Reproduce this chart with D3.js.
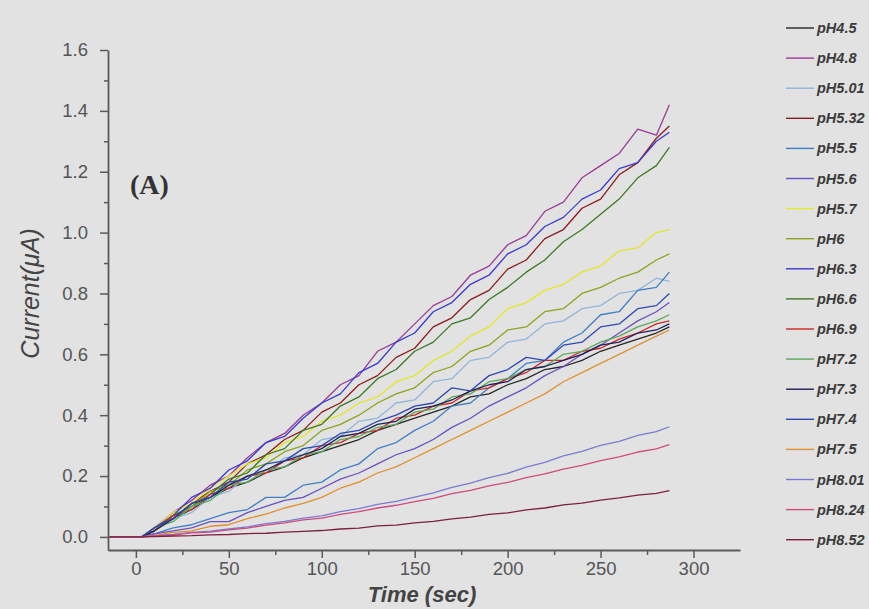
<!DOCTYPE html>
<html>
<head>
<meta charset="utf-8">
<script src="https://cdn.jsdelivr.net/npm/d3@7/dist/d3.min.js"></script>
<style>
  body { margin: 0; background: #e2e2e2; }
  svg { display: block; }
</style>
</head>
<body>
<div class="chart-container"></div>
<script>
const WIDTH = 869;
const HEIGHT = 609;

// time axis (sec) shared by all the runs
const time = [-15, 0, 3, 10, 20, 30, 40, 50, 60, 70, 80, 90, 100, 110, 120, 130, 140, 150,
  160, 170, 180, 190, 200, 210, 220, 230, 240, 250, 260, 270, 280, 287];

// current (uA), one array per pH
const ph4_5 = [0, 0, 0, .02, .06, .09, .13, .16, .18, .21, .23, .26, .28, .30, .32, .35, .37, .39, .41, .43, .46, .47, .50, .52, .55, .56, .58, .61, .63, .65, .67, .69];
const ph4_8 = [0, 0, 0, .03, .08, .12, .17, .20, .26, .31, .34, .40, .44, .50, .53, .61, .64, .70, .76, .79, .86, .89, .96, .99, 1.07, 1.10, 1.18, 1.22, 1.26, 1.34, 1.32, 1.42];
const ph5_01 = [0, 0, 0, .02, .06, .08, .13, .15, .20, .21, .26, .27, .32, .33, .38, .39, .44, .45, .51, .52, .58, .59, .64, .65, .70, .71, .75, .76, .80, .81, .85, .84];
const ph5_32 = [0, 0, 0, .03, .06, .11, .15, .18, .24, .27, .32, .35, .41, .44, .50, .53, .59, .62, .69, .72, .78, .81, .88, .91, .98, 1.01, 1.08, 1.11, 1.19, 1.23, 1.31, 1.35];
const ph5_5 = [0, 0, 0, .01, .03, .04, .06, .08, .09, .13, .13, .17, .18, .22, .24, .29, .31, .35, .38, .43, .44, .49, .52, .57, .58, .64, .67, .73, .74, .81, .82, .87];
const ph5_6 = [0, 0, 0, .01, .02, .03, .05, .05, .08, .10, .12, .13, .16, .19, .21, .24, .27, .29, .32, .36, .39, .43, .46, .49, .53, .56, .60, .63, .67, .71, .74, .77];
const ph5_7 = [0, 0, 0, .03, .08, .11, .16, .20, .24, .26, .31, .33, .38, .40, .44, .46, .51, .53, .58, .61, .66, .69, .75, .77, .81, .83, .87, .89, .94, .95, 1.00, 1.01];
const ph6 = [0, 0, 0, .02, .07, .10, .15, .17, .22, .24, .28, .30, .35, .37, .40, .44, .47, .49, .54, .56, .61, .63, .68, .69, .74, .75, .80, .82, .85, .87, .91, .93];
const ph6_3 = [0, 0, 0, .03, .07, .13, .16, .22, .25, .31, .33, .39, .44, .47, .54, .57, .64, .67, .74, .77, .83, .86, .93, .96, 1.02, 1.05, 1.11, 1.14, 1.21, 1.23, 1.30, 1.33];
const ph6_6 = [0, 0, 0, .02, .07, .10, .14, .19, .21, .27, .29, .35, .37, .43, .46, .52, .55, .61, .64, .70, .72, .78, .82, .87, .91, .97, 1.01, 1.06, 1.11, 1.18, 1.22, 1.28];
const ph6_9 = [0, 0, 0, .02, .07, .09, .14, .16, .20, .21, .25, .26, .30, .31, .34, .35, .39, .40, .43, .44, .48, .49, .52, .54, .58, .58, .61, .62, .65, .67, .70, .71];
const ph7_2 = [0, 0, 0, .03, .05, .10, .12, .17, .18, .22, .23, .27, .28, .32, .33, .36, .37, .41, .42, .46, .47, .51, .52, .55, .56, .60, .61, .64, .66, .69, .71, .73];
const ph7_3 = [0, 0, 0, .02, .06, .11, .13, .17, .20, .22, .25, .27, .29, .33, .34, .37, .38, .42, .43, .45, .48, .50, .51, .55, .56, .58, .60, .63, .64, .67, .68, .70];
const ph7_4 = [0, 0, 0, .03, .06, .11, .13, .18, .19, .24, .25, .29, .30, .34, .35, .38, .40, .43, .44, .49, .48, .53, .55, .59, .58, .63, .64, .69, .70, .75, .76, .80];
const ph7_5 = [0, 0, 0, .005, .015, .02, .035, .04, .06, .075, .095, .11, .13, .16, .18, .21, .23, .26, .29, .32, .35, .38, .41, .44, .47, .51, .54, .57, .60, .63, .66, .68];
const ph8_01 = [0, 0, 0, .003, .008, .015, .019, .026, .033, .044, .051, .062, .069, .083, .093, .107, .117, .131, .145, .163, .177, .195, .209, .229, .245, .266, .281, .301, .314, .334, .346, .362];
const ph8_24 = [0, 0, 0, .003, .007, .013, .016, .023, .029, .039, .046, .056, .062, .074, .083, .095, .104, .116, .127, .142, .153, .168, .179, .195, .207, .223, .235, .251, .263, .279, .289, .303];
const ph8_52 = [0, 0, 0, .001, .003, .004, .007, .008, .011, .012, .016, .018, .021, .026, .029, .036, .039, .046, .051, .059, .065, .074, .079, .089, .095, .105, .111, .121, .128, .137, .143, .152];

const phLabels = ["pH4.5", "pH4.8", "pH5.01", "pH5.32", "pH5.5", "pH5.6", "pH5.7", "pH6", "pH6.3",
  "pH6.6", "pH6.9", "pH7.2", "pH7.3", "pH7.4", "pH7.5", "pH8.01", "pH8.24", "pH8.52"];
const runs = [ph4_5, ph4_8, ph5_01, ph5_32, ph5_5, ph5_6, ph5_7, ph6, ph6_3,
  ph6_6, ph6_9, ph7_2, ph7_3, ph7_4, ph7_5, ph8_01, ph8_24, ph8_52];

const xTicks = [0, 50, 100, 150, 200, 250, 300];
const xMinor = [25, 75, 125, 175, 225, 275];
const yTicks = [0, 0.2, 0.4, 0.6, 0.8, 1.0, 1.2, 1.4, 1.6];
const yMinor = [0.1, 0.3, 0.5, 0.7, 0.9, 1.1, 1.3, 1.5];

const lineColors = ["#262626", "#9a3a96", "#8fb6dc", "#8c1c1c", "#3f7fc4", "#6a50c0", "#e6e62a", "#8ca41e", "#3a3ad0",
  "#3a7a22", "#d02828", "#5aaa5a", "#20205a", "#2a4ab0", "#e0902e", "#7a7ad0", "#d04a80", "#7a2040"];

const AXIS_COLOR = "#5a5a5a";
const FONT = "'Liberation Sans', Arial, sans-serif";

const svg = d3
  .select(".chart-container")
  .append("svg")
  .attr("width", WIDTH)
  .attr("height", HEIGHT);

svg.append("rect")
  .attr("width", WIDTH)
  .attr("height", HEIGHT)
  .attr("fill", "#e2e2e2");

const x = d3.scaleLinear().domain([-15, 325]).range([108, 740]);
const y = d3.scaleLinear().domain([-0.043, 1.6]).range([550, 50]);

// lines
const line = d3.line()
  .x((d, i) => x(time[i]))
  .y((d) => y(d));

svg.append("g")
  .attr("fill", "none")
  .attr("stroke-width", 1.3)
  .attr("stroke-linejoin", "round")
  .selectAll("path")
  .data(runs)
  .join("path")
  .attr("stroke", (d, i) => lineColors[i])
  .attr("d", line);

// axes
const styleAxis = (g) => {
  g.select(".domain").attr("stroke", AXIS_COLOR).attr("stroke-width", 1.8);
  g.selectAll(".tick line").attr("stroke", AXIS_COLOR).attr("stroke-width", 1.5);
  g.selectAll(".tick text")
    .attr("fill", "#555")
    .attr("font-family", FONT)
    .attr("font-size", "18.5px");
};

svg.append("g")
  .attr("transform", `translate(0,${y.range()[0]})`)
  .call(d3.axisBottom(x).tickValues(xMinor).tickSize(5).tickSizeOuter(0).tickFormat(""))
  .call((g) => g.select(".domain").remove())
  .call(styleAxis);

svg.append("g")
  .attr("transform", `translate(0,${y.range()[0]})`)
  .call(d3.axisBottom(x).tickValues(xTicks).tickSize(8).tickPadding(4).tickSizeOuter(0))
  .call(styleAxis);

svg.append("g")
  .attr("transform", `translate(${x.range()[0]},0)`)
  .call(d3.axisLeft(y).tickValues(yMinor).tickSize(4).tickSizeOuter(0).tickFormat(""))
  .call((g) => g.select(".domain").remove())
  .call(styleAxis);

svg.append("g")
  .attr("transform", `translate(${x.range()[0]},0)`)
  .call(d3.axisLeft(y).tickValues(yTicks).tickSize(8).tickPadding(12).tickSizeOuter(0).tickFormat(d3.format(".1f")))
  .call(styleAxis);

// axis titles
svg.append("text")
  .attr("transform", `translate(39,${y(0.8)}) rotate(-90)`)
  .attr("text-anchor", "middle")
  .attr("font-family", FONT)
  .attr("font-style", "italic")
  .attr("font-size", "25px")
  .attr("fill", "#444")
  .text("Current(μA)");

svg.append("text")
  .attr("x", 422)
  .attr("y", 602)
  .attr("text-anchor", "middle")
  .attr("font-family", FONT)
  .attr("font-style", "italic")
  .attr("font-weight", "bold")
  .attr("font-size", "22px")
  .attr("fill", "#444")
  .text("Time (sec)");

svg.append("text")
  .attr("x", 130)
  .attr("y", 194)
  .attr("font-family", "'Liberation Serif', 'Times New Roman', serif")
  .attr("font-weight", "bold")
  .attr("font-size", "28px")
  .attr("fill", "#333")
  .text("(A)");

// legend
const legend = svg.append("g")
  .selectAll("g")
  .data(phLabels)
  .join("g")
  .attr("transform", (d, i) => `translate(786,${28 + i * 30.1})`);

legend.append("line")
  .attr("x1", 0)
  .attr("x2", 28)
  .attr("stroke", (d, i) => lineColors[i])
  .attr("stroke-width", 1.4);

legend.append("text")
  .attr("x", 31)
  .attr("dy", "0.35em")
  .attr("font-family", FONT)
  .attr("font-style", "italic")
  .attr("font-weight", "bold")
  .attr("font-size", "14.5px")
  .attr("fill", "#3a3a3a")
  .text((d) => d);
</script>
</body>
</html>
